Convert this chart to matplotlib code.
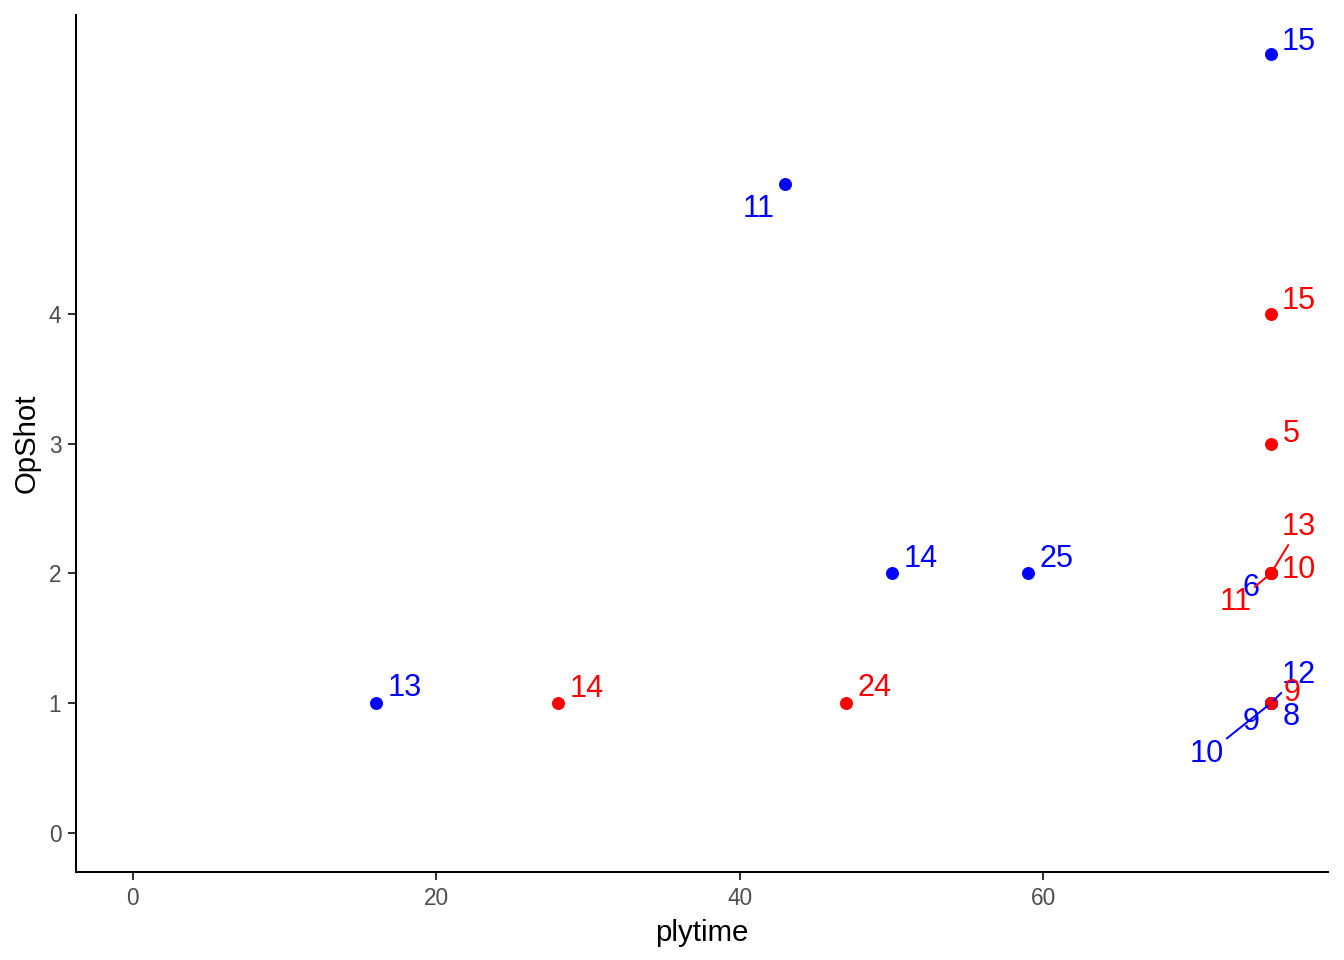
import matplotlib
matplotlib.use("Agg")
import matplotlib.pyplot as plt

plt.rcParams['font.family'] = ['Liberation Sans', 'DejaVu Sans']

# data
blue_x = [16, 43, 50, 59, 75, 75, 75, 75, 75, 75]
blue_y = [1, 5, 2, 2, 6, 2, 1, 1, 1, 1]
blue_lab = ['13', '11', '14', '25', '15', '6', '12', '8', '9', '10']

red_x = [28, 47, 75, 75, 75, 75, 75, 75]
red_y = [1, 1, 4, 3, 2, 2, 2, 1]
red_lab = ['14', '24', '15', '5', '13', '10', '11', '9']

# label placement (pixel offsets, segment flag) - repel style
blue_off = [(29, 15), (-27, -25), (29, 14), (28, 14), (28, 12), (-20, -15),
            (28, 28), (20, -14), (-20, -19), (-64, -51)]
blue_seg = [False, False, False, False, False, False, True, False, False, True]
red_off = [(29, 14), (28, 15), (28, 13), (20, 10), (28, 46), (28, 3), (-35, -29), (21, 10)]
red_seg = [False, False, False, False, True, False, True, False]

fig = plt.figure(figsize=(14, 10), dpi=96)
ax = fig.add_axes([0.0565, 0.0917, 0.9315, 0.8925])

ax.scatter(blue_x, blue_y, s=95, color='#0000FF', zorder=3, linewidths=0)
ax.scatter(red_x, red_y, s=95, color='#FF0000', zorder=3, linewidths=0)

def labels(xs, ys, labs, offs, segs, color):
    for x, y, t, (dx, dy), sg in zip(xs, ys, labs, offs, segs):
        ap = None
        if sg:
            ap = dict(arrowstyle='-', color=color, lw=1.5, shrinkA=0, shrinkB=3)
        ax.annotate(t, (x, y), xytext=(dx, dy), textcoords='offset pixels',
                    ha='center', va='center', fontsize=23, color=color,
                    arrowprops=ap, zorder=4)

labels(blue_x, blue_y, blue_lab, blue_off, blue_seg, '#0000FF')
labels(red_x, red_y, red_lab, red_off, red_seg, '#FF0000')

ax.set_xlim(-3.75, 78.75)
ax.set_ylim(-0.3, 6.3)
ax.set_xticks([0, 20, 40, 60])
ax.set_yticks([0, 1, 2, 3, 4])

for s in ['top', 'right']:
    ax.spines[s].set_visible(False)
for s in ['left', 'bottom']:
    ax.spines[s].set_linewidth(1.5)
    ax.spines[s].set_color('black')
ax.tick_params(axis='both', length=6, width=1.5, color='#333333',
               labelsize=17, labelcolor='#4D4D4D', pad=5)

ax.set_xlabel('plytime', fontsize=22, labelpad=7)
ax.set_ylabel('OpShot', fontsize=22, labelpad=6)

fig.savefig('out.png', dpi=96)
